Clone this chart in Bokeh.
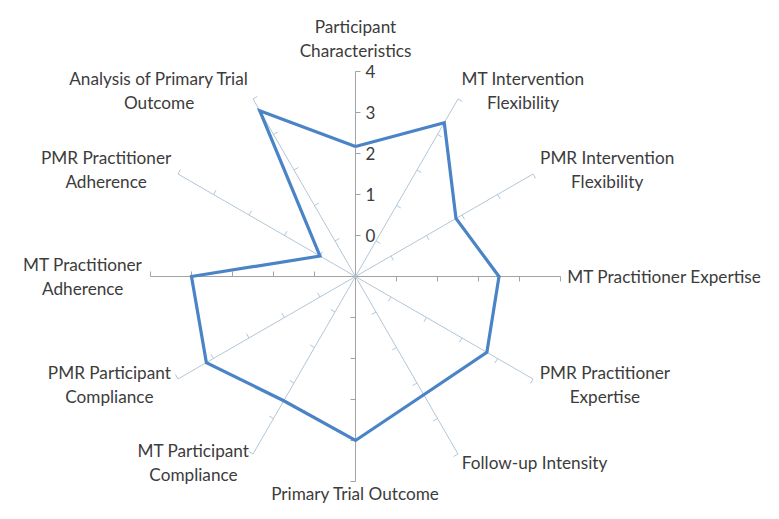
import numpy as np
from bokeh.plotting import figure
from bokeh.models import Range1d
from bokeh.embed import file_html
from bokeh.resources import INLINE
from bokeh.core.properties import value

# ---- data ----
categories = [
    "Participant\nCharacteristics",
    "MT Intervention\nFlexibility",
    "PMR Intervention\nFlexibility",
    "MT Practitioner Expertise",
    "PMR Practitioner\nExpertise",
    "Follow-up Intensity",
    "Primary Trial Outcome",
    "MT Participant\nCompliance",
    "PMR Participant\nCompliance",
    "MT Practitioner\nAdherence",
    "PMR Practitioner\nAdherence",
    "Analysis of Primary Trial\nOutcome",
]
scores = [2.17, 3.33, 1.83, 2.5, 2.7, 2.33, 3.0, 2.5, 3.2, 3.0, 0.0, 3.67]
tick_values = [0, 1, 2, 3, 4]
axis_min = -1
axis_max = 4

# ---- layout ----
W, H = 763, 503
PX = 41.0              # pixels per data unit
CX, CY = 355.0, 276.0  # centre, in figure pixels from top-left
FONT = "Lato"
FS = 17.2
LINE = 24.0            # line spacing in px
TEXT_COLOR = "#3c3c3c"

# rough Lato advance widths (em) to centre multi-line labels
_w = {" ": .20, "-": .34, "a": .50, "b": .56, "c": .46, "d": .56, "e": .52, "f": .32,
      "g": .50, "h": .56, "i": .24, "j": .24, "k": .50, "l": .24, "m": .84, "n": .56,
      "o": .56, "p": .56, "q": .56, "r": .36, "s": .42, "t": .35, "u": .56, "v": .50,
      "w": .76, "x": .49, "y": .50, "z": .45, "A": .68, "C": .67, "E": .55, "F": .53,
      "I": .27, "M": .87, "O": .77, "P": .59, "R": .60, "T": .56}


def text_w(t):
    return sum(_w.get(ch, .55) for ch in t) * FS


p = figure(width=W, height=H, output_backend="svg", toolbar_location=None,
           x_range=Range1d(-CX / PX, (W - CX) / PX),
           y_range=Range1d(-(H - CY) / PX, CY / PX),
           min_border=0, background_fill_color="white")
p.axis.visible = False
p.grid.visible = False
p.outline_line_color = None

n = len(categories)
theta = np.arange(n) * 2 * np.pi / n
s, c = np.sin(theta), np.cos(theta)
R = axis_max - axis_min

# spokes
ortho = [abs(np.round(si, 6)) in (0.0, 1.0) for si in s]
spoke_colors = ["#a3a3a3" if o else "#b3c6d6" for o in ortho]
p.segment(x0=np.zeros(n), y0=np.zeros(n), x1=R * s, y1=R * c,
          line_color=spoke_colors, line_width=1)

# tick marks (clockwise side of each spoke)
tl = 5.0 / PX
tx0, ty0, tx1, ty1, tcol = [], [], [], [], []
for i in range(n):
    for t in tick_values:
        r = t - axis_min
        x, y = r * s[i], r * c[i]
        tx0.append(x); ty0.append(y)
        tx1.append(x + tl * c[i]); ty1.append(y - tl * s[i])
        tcol.append(spoke_colors[i])
p.segment(x0=tx0, y0=ty0, x1=tx1, y1=ty1, line_color=tcol, line_width=1)

# tick labels on the first spoke
p.text(x=[10.0 / PX] * len(tick_values), y=[t - axis_min for t in tick_values],
       text=[str(t) for t in tick_values], text_align="left", text_baseline="middle",
       text_font=value(FONT), text_font_size="17px", text_color=TEXT_COLOR)

# data polygon
rv = np.array(scores) - axis_min
px_ = list(rv * s) + [rv[0] * s[0]]
py_ = list(rv * c) + [rv[0] * c[0]]
p.line(px_, py_, line_color="#4a84c6", line_width=3.2, line_join="miter")

# category labels: each line drawn centred within its block
gap = 10.0 / PX
lx, ly, lt = [], [], []
for i in range(n):
    lines = categories[i].split("\n")
    bw = max(text_w(l) for l in lines) / PX
    ax_, ay_ = (R + gap) * s[i], (R + gap) * c[i]
    if s[i] > 0.01:
        cxl = ax_ + bw / 2
    elif s[i] < -0.01:
        cxl = ax_ - bw / 2
    else:
        cxl = ax_
    k = len(lines)
    if c[i] > 0.99:       # top: last line 21 px above axis end
        ys = [R + (21 + (k - 1 - j) * LINE) / PX for j in range(k)]
    elif c[i] < -0.99:    # bottom: first line just below axis end
        ys = [-R - (12 + j * LINE) / PX for j in range(k)]
    else:
        ys = [ay_ + ((k - 1) / 2 - j) * LINE / PX for j in range(k)]
    for j, l in enumerate(lines):
        lx.append(cxl); ly.append(ys[j]); lt.append(l)

p.text(x=lx, y=ly, text=lt, text_align="center", text_baseline="middle",
       text_font=value(FONT), text_font_size=f"{FS}px", text_color=TEXT_COLOR)

open("out.html", "w").write(file_html(p, INLINE))
